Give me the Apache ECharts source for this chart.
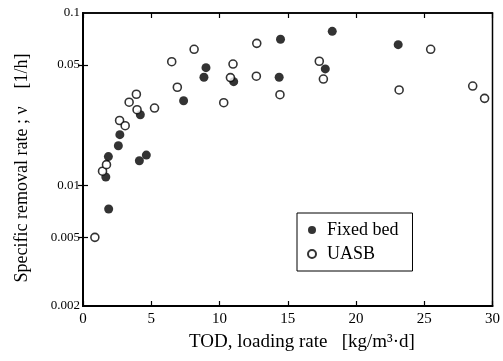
<!DOCTYPE html>
<html>
<head>
<meta charset="utf-8">
<script src="https://cdn.jsdelivr.net/npm/echarts@6/dist/echarts.min.js"></script>
<style>
  html, body { margin: 0; padding: 0; background: #fff; }
  #chart { width: 503px; height: 361px; }
</style>
</head>
<body>
<div id="chart"></div>
<script>
// TOD loading rate [kg/m3.d] vs specific removal rate [1/h]
const fixedBedX = [1.67, 1.86, 1.88, 2.59, 2.70, 4.20, 4.13, 4.64, 7.37, 8.86, 9.01, 11.04, 14.47, 14.37, 18.26, 17.75, 23.09]
const fixedBedY = [0.0112, 0.0147, 0.0073, 0.0170, 0.0197, 0.0257, 0.0139, 0.0150, 0.0310, 0.0424, 0.0482, 0.0400, 0.0704, 0.0424, 0.0783, 0.0474, 0.0655]

const uasbX = [0.87, 1.43, 1.72, 2.68, 3.09, 3.38, 3.91, 3.96, 5.24, 6.50, 6.91, 8.14, 10.31, 10.80, 10.99, 12.73, 12.70, 14.43, 17.31, 17.61, 23.16, 25.47, 28.55, 29.42]
const uasbY = [0.0050, 0.0121, 0.0132, 0.0238, 0.0222, 0.0304, 0.0338, 0.0275, 0.0281, 0.0522, 0.0371, 0.0616, 0.0302, 0.0422, 0.0506, 0.0667, 0.0430, 0.0336, 0.0525, 0.0414, 0.0358, 0.0616, 0.0377, 0.0320]

const yLabelValues = [0.002, 0.005, 0.01, 0.05, 0.1]
const yTickValues = [0.005, 0.01, 0.05]

const font = '"Liberation Serif", "DejaVu Serif", serif'

const chart = echarts.init(document.getElementById('chart'))

const toPairs = (xs, ys) => xs.map((x, i) => [x, ys[i]])

const option = {
  animation: false,
  grid: {
    left: 83,
    right: 8,
    top: 13,
    bottom: 55,
    show: true,
    borderColor: '#000',
    borderWidth: 1.5
  },
  legend: {
    orient: 'vertical',
    left: 297,
    top: 213,
    padding: [8, 14, 8, 10],
    itemGap: 6,
    itemWidth: 8,
    itemHeight: 8,
    borderColor: '#000',
    borderWidth: 1,
    textStyle: { fontFamily: font, fontSize: 18, color: '#000', padding: [0, 0, 0, 6] },
    data: ['Fixed bed', 'UASB']
  },
  xAxis: [
    {
      type: 'value',
      min: 0,
      max: 30,
      interval: 5,
      axisLine: { lineStyle: { color: '#000', width: 2 } },
      axisTick: { inside: true, length: 5, lineStyle: { color: '#000', width: 1.2 } },
      axisLabel: { fontFamily: font, fontSize: 15, color: '#000', margin: 6 },
      splitLine: { show: false }
    },
    {
      type: 'value',
      position: 'top',
      min: 0,
      max: 30,
      interval: 5,
      axisLine: { lineStyle: { color: '#000', width: 1.5 } },
      axisTick: { inside: true, length: 5, lineStyle: { color: '#000', width: 1.2 } },
      axisLabel: { show: false },
      splitLine: { show: false }
    }
  ],
  yAxis: [
    {
      type: 'log',
      logBase: 10,
      min: 0.002,
      max: 0.1,
      axisLine: { show: true, lineStyle: { color: '#000', width: 2 } },
      axisTick: { show: true, inside: true, length: 5, customValues: yTickValues, lineStyle: { color: '#000', width: 1.2 } },
      axisLabel: { fontFamily: font, fontSize: 13, color: '#000', margin: 3, customValues: yLabelValues,
        formatter: (v) => String(+v.toPrecision(3)) },
      minorTick: { show: false },
      splitLine: { show: false }
    },
    {
      type: 'log',
      logBase: 10,
      position: 'right',
      min: 0.002,
      max: 0.1,
      axisLine: { show: true, lineStyle: { color: '#000', width: 1.5 } },
      axisTick: { show: true, inside: true, length: 5, customValues: yTickValues, lineStyle: { color: '#000', width: 1.2 } },
      axisLabel: { show: false },
      splitLine: { show: false }
    }
  ],
  graphic: [
    {
      type: 'text',
      x: 22,
      y: 168,
      rotation: Math.PI / 2,
      style: {
        text: 'Specific removal rate ; ν    [1/h]',
        fontFamily: font,
        fontSize: 18,
        fill: '#000',
        align: 'center',
        verticalAlign: 'middle'
      }
    },
    {
      type: 'text',
      x: 302,
      y: 342,
      style: {
        text: 'TOD, loading rate   [kg/m³·d]',
        fontFamily: font,
        fontSize: 19,
        fill: '#000',
        align: 'center',
        verticalAlign: 'middle'
      }
    }
  ],
  series: [
    {
      name: 'Fixed bed',
      type: 'scatter',
      symbol: 'circle',
      symbolSize: 9,
      itemStyle: { color: '#000' },
      data: toPairs(fixedBedX, fixedBedY)
    },
    {
      name: 'UASB',
      type: 'scatter',
      symbol: 'circle',
      symbolSize: 8,
      itemStyle: { color: '#fff', borderColor: '#000', borderWidth: 1.6 },
      data: toPairs(uasbX, uasbY)
    }
  ]
}

chart.setOption(option)
</script>
</body>
</html>
